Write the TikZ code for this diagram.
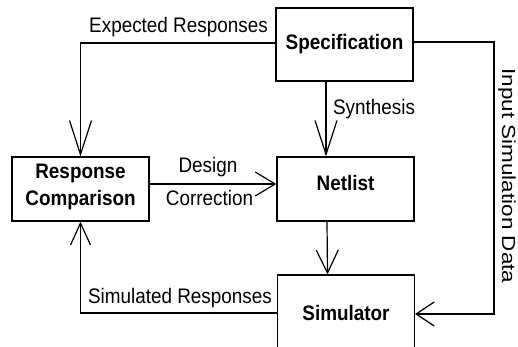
\documentclass[tikz,border=0pt]{standalone}
\usepackage{fontspec}
\setmainfont{Liberation Sans}
\usetikzlibrary{arrows.meta}
\newcommand{\hsq}[1]{\scalebox{0.9}[1]{#1}}
\tikzset{
  base/.style={font=\fontsize{21}{27}\selectfont, inner sep=0pt},
  box/.style={base, draw, line width=1.2pt, minimum width=137pt, anchor=base, font=\fontsize{21}{27}\selectfont\bfseries},
  lbl/.style={base, anchor=base},
  conn/.style={line width=1.2pt},
}
\begin{document}
\begin{tikzpicture}[x=1pt,y=-1pt]
\fill[white] (0,0) rectangle (518,347);
\clip (0,0) rectangle (518,347);
\node[box, text height=42pt, text depth=31pt] (spec) at (344.5,50) {\hsq{Specification}};
\node[box, text height=33.6pt, text depth=30.4pt] (net) at (345.5,190.6) {\hsq{Netlist}};
\node[box, text height=48pt, text depth=16pt] (resp) at (80.5,205)
  {\begin{tabular}[b]{@{}c@{}}\hsq{Response}\\\hsq{Comparison}\end{tabular}};
\node[box, text height=45pt, text depth=33pt] (sim) at (346,320) {\hsq{Simulator}};
\coordinate (ic) at (494,0);
% connectors
\draw[conn, -{Straight Barb[length=34pt,width=22pt]}] ([yshift=1.5pt]spec.west) -| (resp.north);
\draw[conn, -{Straight Barb[length=34pt,width=22pt]}] ([xshift=-18.5pt]spec.south) -- ([xshift=-19.5pt]net.north);
\draw[conn, -{Straight Barb[length=20pt,width=24pt]}] ([yshift=5pt]resp.east) -- ([yshift=5pt]net.west);
\draw[conn, -{Straight Barb[length=23pt,width=22pt]}] ([xshift=-18.5pt]net.south) -- ([xshift=-18.5pt]sim.north);
\draw[conn, -{Straight Barb[length=22pt,width=20pt]}] ([yshift=1pt]sim.west) -| (resp.south);
\draw[conn, -{Straight Barb[length=18pt,width=24pt]}] ([yshift=2.5pt]spec.east) -- ([yshift=2.5pt]spec.east -| ic) -- (ic |- sim.east) -- (sim.east);
% labels
\node[lbl] (lexp) at (178.5,33) {\hsq{Expected Responses}};
\node[lbl] (lsyn) at (374,115) {\hsq{Synthesis}};
\node[lbl] (ldes) at (208,173) {\hsq{Design}};
\node[lbl] (lcor) at (209.5,205) {\hsq{Correction}};
\node[lbl] (lsim) at (180,303) {\hsq{Simulated Responses}};
\node[base, rotate=-90] (linp) at (507,176) {\scalebox{1.07}[0.9]{Input Simulation Data}};
\end{tikzpicture}
\end{document}
